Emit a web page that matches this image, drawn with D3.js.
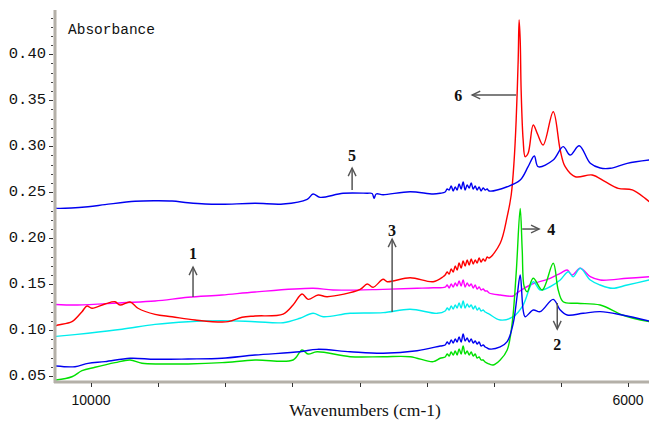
<!DOCTYPE html>
<html>
<head>
<meta charset="utf-8">
<script src="https://cdn.jsdelivr.net/npm/d3@7"></script>
<style>
  html, body { margin: 0; padding: 0; background: #ffffff; }
  svg { display: block; }
</style>
</head>
<body>
<svg id="chart" width="649" height="429"></svg>
<script>
// NIR absorbance spectra, [wavenumber (cm-1), absorbance]
const spectrum1 = [
  [10268,0.1278],[10100,0.1272],[9769,0.1297],[9523,0.1316],[9277,0.1356],[9024,0.1381],[8778,0.1414],
  [8346,0.1454],[8197,0.1436],[7824,0.1443],[7571,0.1454],[7451,0.1460],
  [7362,0.1468],[7347,0.1490],[7332,0.1457],[7317,0.1501],[7302,0.1468],[7287,0.1512],
  [7273,0.1479],[7258,0.1534],[7243,0.1479],[7228,0.1544],[7213,0.1468],[7198,0.1512],
  [7183,0.1479],[7168,0.1501],[7153,0.1457],[7138,0.1490],[7124,0.1446],[7109,0.1468],
  [7094,0.1436],[7079,0.1446],[7064,0.1425],[7049,0.1425],[7034,0.1403],
  [6952,0.1381],[6855,0.1370],[6825,0.1406],[6729,0.1490],[6580,0.1563],[6505,0.1617],[6453,0.1653],
  [6416,0.1599],[6356,0.1672],[6281,0.1580],[6207,0.1544],[6006,0.1563],[5842,0.1580]
];
const spectrum2 = [
  [10268,0.0609],[10119,0.0601],[10022,0.0638],[9896,0.0656],[9709,0.0693],[9523,0.0682],
  [9277,0.0685],[9024,0.0693],[8778,0.0728],[8443,0.0764],[8316,0.0790],[8070,0.0764],
  [7824,0.0747],[7571,0.0775],[7399,0.0826],
  [7362,0.0837],[7347,0.0870],[7332,0.0848],[7317,0.0892],[7302,0.0859],[7287,0.0903],
  [7273,0.0870],[7258,0.0924],[7243,0.0870],[7228,0.0957],[7213,0.0881],[7198,0.0913],
  [7183,0.0870],[7168,0.0903],[7153,0.0859],[7138,0.0881],[7124,0.0848],[7109,0.0870],
  [7094,0.0826],[7079,0.0837],[7064,0.0816],[7049,0.0805],[7034,0.0794],
  [6952,0.0816],[6900,0.0873],
  [6855,0.1073],[6825,0.1381],[6803,0.1599],[6781,0.1218],[6766,0.1145],[6706,0.1218],
  [6654,0.1200],[6557,0.1334],[6505,0.1218],[6453,0.1164],[6334,0.1182],[6207,0.1200],
  [6043,0.1164],[5842,0.1098]
];
const spectrum3 = [
  [10268,0.0930],[10022,0.0965],[9769,0.1008],[9523,0.1062],[9277,0.1091],[9024,0.1102],
  [8778,0.1091],[8569,0.1080],[8443,0.1128],[8346,0.1182],[8271,0.1145],[8070,0.1182],
  [7824,0.1189],[7623,0.1226],[7422,0.1182],
  [7362,0.1207],[7347,0.1240],[7332,0.1218],[7317,0.1262],[7302,0.1229],[7287,0.1272],
  [7273,0.1240],[7258,0.1294],[7243,0.1240],[7228,0.1316],[7213,0.1240],[7198,0.1283],
  [7183,0.1251],[7168,0.1272],[7153,0.1229],[7138,0.1262],[7124,0.1218],[7109,0.1240],
  [7094,0.1207],[7079,0.1218],[7064,0.1196],[7049,0.1185],[7034,0.1174],
  [6952,0.1109],[6855,0.1145],
  [6781,0.1272],[6706,0.1526],[6654,0.1436],[6580,0.1471],[6505,0.1544],[6445,0.1635],
  [6408,0.1580],[6356,0.1672],[6281,0.1544],[6207,0.1490],[6117,0.1454],[6006,0.1490],
  [5842,0.1544]
];
const spectrum4 = [
  [10268,0.0456],[10142,0.0492],[10067,0.0558],[9970,0.0595],[9821,0.0645],[9709,0.0674],
  [9620,0.0638],[9471,0.0631],[9277,0.0631],[9024,0.0645],[8778,0.0674],[8495,0.0674],
  [8428,0.0783],[8383,0.0739],[8316,0.0764],[8070,0.0710],[7824,0.0710],[7623,0.0710],
  [7451,0.0656],[7399,0.0693],
  [7362,0.0707],[7347,0.0739],[7332,0.0718],[7317,0.0761],[7302,0.0728],[7287,0.0772],
  [7273,0.0728],[7258,0.0794],[7243,0.0739],[7228,0.0826],[7213,0.0739],[7198,0.0772],
  [7183,0.0728],[7168,0.0761],[7153,0.0718],[7138,0.0739],[7124,0.0696],[7109,0.0707],
  [7094,0.0674],[7079,0.0674],[7064,0.0652],[7049,0.0641],[7034,0.0631],
  [7004,0.0620],[6952,0.0674],[6900,0.0783],[6863,0.1073],
  [6833,0.1617],[6803,0.2322],[6788,0.1871],[6773,0.1471],[6751,0.1417],[6706,0.1563],
  [6639,0.1436],[6557,0.1726],[6520,0.1436],[6483,0.1308],[6378,0.1291],[6207,0.1272],
  [6043,0.1164],[5842,0.1091]
];
const spectrum5 = [
  [10268,0.2328],[10246,0.2324],[10022,0.2342],[9896,0.2364],[9672,0.2401],[9523,0.2407],
  [9396,0.2404],[9277,0.2385],[9150,0.2371],[9024,0.2368],[8778,0.2379],[8569,0.2371],
  [8390,0.2422],[8346,0.2480],[8294,0.2444],[8122,0.2488],[7943,0.2488],[7906,0.2486],
  [7891,0.2433],[7876,0.2480],[7824,0.2472],[7623,0.2505],[7451,0.2480],[7399,0.2488],
  [7362,0.2502],[7347,0.2534],[7332,0.2524],[7317,0.2567],[7302,0.2513],[7287,0.2556],
  [7273,0.2524],[7258,0.2589],[7243,0.2534],[7228,0.2611],[7213,0.2524],[7198,0.2578],
  [7183,0.2545],[7168,0.2600],[7153,0.2534],[7138,0.2567],[7124,0.2524],[7109,0.2556],
  [7094,0.2513],[7079,0.2545],[7064,0.2524],[7049,0.2534],[7034,0.2513],
  [6900,0.2559],[6803,0.2632],
  [6744,0.2777],[6698,0.2893],[6669,0.2777],[6557,0.2850],[6483,0.2995],[6431,0.2904],
  [6363,0.3005],[6281,0.2814],[6207,0.2763],[6132,0.2760],[6006,0.2814],[5842,0.2850]
];
const spectrum6 = [
  [10268,0.1044],[10246,0.1055],[10142,0.1091],[10067,0.1200],[10030,0.1262],[9993,0.1237],
  [9896,0.1283],[9821,0.1308],[9784,0.1272],[9709,0.1305],[9650,0.1237],[9523,0.1171],
  [9396,0.1145],[9225,0.1109],[8979,0.1091],[8875,0.1139],[8778,0.1153],[8569,0.1174],
  [8495,0.1272],[8428,0.1392],[8383,0.1334],[8308,0.1381],[8241,0.1363],[7995,0.1443],
  [7943,0.1501],[7899,0.1465],[7824,0.1552],[7794,0.1526],[7623,0.1569],[7451,0.1526],
  [7377,0.1580],
  [7362,0.1599],[7347,0.1631],[7332,0.1610],[7317,0.1664],[7302,0.1631],[7287,0.1697],
  [7273,0.1653],[7258,0.1729],[7243,0.1675],[7228,0.1751],[7213,0.1697],[7198,0.1762],
  [7183,0.1708],[7168,0.1773],[7153,0.1718],[7138,0.1762],[7124,0.1729],[7109,0.1784],
  [7094,0.1740],[7079,0.1773],[7064,0.1751],[7049,0.1795],[7034,0.1784],
  [6952,0.1944],[6900,0.2233],[6870,0.2469],[6848,0.2850],[6833,0.3285],[6818,0.3938],
  [6811,0.4373],[6803,0.4155],[6796,0.3611],[6781,0.3067],[6766,0.2886],[6744,0.2923],
  [6706,0.3231],[6676,0.3140],[6632,0.3013],[6557,0.3375],[6505,0.2959],[6468,0.2777],
  [6393,0.2668],[6267,0.2687],[6170,0.2614],[6073,0.2542],[5968,0.2524],[5872,0.2433],
  [5842,0.2396]
];

const seriesList = [
  { name: "1", color: "#ff00ff", values: spectrum1 },
  { name: "3", color: "#00eded", values: spectrum3 },
  { name: "4", color: "#00e000", values: spectrum4 },
  { name: "2", color: "#0000f0", values: spectrum2 },
  { name: "6", color: "#ff0000", values: spectrum6 },
  { name: "5", color: "#0000f0", values: spectrum5 }
];

const yTickValues = [0.05, 0.10, 0.15, 0.20, 0.25, 0.30, 0.35, 0.40];
const yMinorTicks = d3.range(5, 45).map(d => d / 100);
const xTickValues = [10000, 9500, 9000, 8500, 8000, 7500, 7000, 6500, 6000];
const xTickLabels = { 10000: "10000", 6000: "6000" };

// Peak labels: text, label position, arrow tail, arrow head (data units)
const peakLabels = [
  { text: "1", at: [9240, 0.1838], from: [9240, 0.1359], to: [9240, 0.1686] },
  { text: "2", at: [6527, 0.0848], from: [6527, 0.1294], to: [6527, 0.1011] },
  { text: "3", at: [7757, 0.2088], from: [7757, 0.1196], to: [7757, 0.1990] },
  { text: "4", at: [6572, 0.2099], from: [6788, 0.2099], to: [6662, 0.2099] },
  { text: "5", at: [8055, 0.2904], from: [8055, 0.2524], to: [8055, 0.2763] },
  { text: "6", at: [7265, 0.3557], from: [6833, 0.3557], to: [7161, 0.3557] }
];

const svg = d3.select("#chart");
const plot = { left: 55, right: 649, top: 10, bottom: 382 };

const x = d3.scaleLinear().domain([10000, 6000]).range([91, 628]);
const y = d3.scaleLinear().domain([0.05, 0.40]).range([376, 54.3]);

svg.append("defs").append("clipPath").attr("id", "plotClip")
  .append("rect")
  .attr("x", plot.left + 1).attr("y", plot.top)
  .attr("width", plot.right - plot.left).attr("height", plot.bottom - plot.top);

// Spectra
const line = d3.line().x(d => x(d[0])).y(d => y(d[1])).curve(d3.curveCatmullRom.alpha(0.5));
svg.append("g").attr("clip-path", "url(#plotClip)")
  .selectAll("path").data(seriesList).join("path")
  .attr("d", d => line(d.values))
  .attr("fill", "none")
  .attr("stroke", d => d.color)
  .attr("stroke-width", 1.4)
  .attr("stroke-linejoin", "round");

// Y axis
const yAxisG = svg.append("g");
yAxisG.append("line")
  .attr("x1", plot.left).attr("x2", plot.left)
  .attr("y1", plot.top).attr("y2", plot.bottom + 1)
  .attr("stroke", "#b4b0a8").attr("stroke-width", 3);
yAxisG.selectAll("line.minor").data(yMinorTicks).join("line")
  .attr("class", "minor")
  .attr("x1", plot.left - 4).attr("x2", plot.left - 2)
  .attr("y1", d => Math.round(y(d)) + 0.5).attr("y2", d => Math.round(y(d)) + 0.5)
  .attr("stroke", "#444").attr("stroke-width", 1);
yAxisG.selectAll("line.major").data(yTickValues).join("line")
  .attr("class", "major")
  .attr("x1", plot.left - 6).attr("x2", plot.left - 2)
  .attr("y1", d => Math.round(y(d)) + 0.5).attr("y2", d => Math.round(y(d)) + 0.5)
  .attr("stroke", "#333").attr("stroke-width", 1);
yAxisG.selectAll("text").data(yTickValues).join("text")
  .attr("x", 46).attr("y", d => y(d))
  .attr("text-anchor", "end").attr("dominant-baseline", "central")
  .attr("font-family", "'Liberation Mono', 'DejaVu Sans Mono', monospace")
  .attr("font-size", 15.5).attr("fill", "#111")
  .text(d => d3.format(".2f")(d));

// X axis
const xAxisG = svg.append("g");
xAxisG.append("line")
  .attr("x1", plot.left - 1).attr("x2", plot.right)
  .attr("y1", plot.bottom).attr("y2", plot.bottom)
  .attr("stroke", "#b4b0a8").attr("stroke-width", 3);
xAxisG.selectAll("line.tick").data(xTickValues).join("line")
  .attr("class", "tick")
  .attr("x1", d => Math.round(x(d)) + 0.5).attr("x2", d => Math.round(x(d)) + 0.5)
  .attr("y1", plot.bottom + 1).attr("y2", plot.bottom + 5)
  .attr("stroke", "#333").attr("stroke-width", 1);
xAxisG.selectAll("text").data(xTickValues.filter(d => xTickLabels[d])).join("text")
  .attr("x", d => x(d)).attr("y", 405)
  .attr("text-anchor", "middle")
  .attr("font-family", "'Liberation Sans', Arial, sans-serif")
  .attr("font-size", 14).attr("fill", "#111")
  .text(d => xTickLabels[d]);

svg.append("text")
  .attr("x", 365).attr("y", 416)
  .attr("text-anchor", "middle")
  .attr("font-family", "'Liberation Serif', 'Times New Roman', serif")
  .attr("font-size", 17.5).attr("fill", "#111")
  .text("Wavenumbers (cm-1)");

svg.append("text")
  .attr("x", 68).attr("y", 30)
  .attr("dominant-baseline", "central")
  .attr("font-family", "'Liberation Mono', 'DejaVu Sans Mono', monospace")
  .attr("font-size", 14.5).attr("fill", "#111")
  .text("Absorbance");

// Peak labels with arrows
const annot = svg.append("g");
peakLabels.forEach(p => {
  const x1 = x(p.from[0]), y1 = y(p.from[1]);
  const x2 = x(p.to[0]), y2 = y(p.to[1]);
  const ang = Math.atan2(y2 - y1, x2 - x1);
  const len = 9, spread = 0.45;
  annot.append("line")
    .attr("x1", x1).attr("y1", y1).attr("x2", x2).attr("y2", y2)
    .attr("stroke", "#555").attr("stroke-width", 1.5);
  annot.append("path")
    .attr("d", d3.line()([
      [x2 - len * Math.cos(ang - spread), y2 - len * Math.sin(ang - spread)],
      [x2, y2],
      [x2 - len * Math.cos(ang + spread), y2 - len * Math.sin(ang + spread)]
    ]))
    .attr("fill", "none").attr("stroke", "#555").attr("stroke-width", 1.4);
  annot.append("text")
    .attr("x", x(p.at[0])).attr("y", y(p.at[1]))
    .attr("text-anchor", "middle").attr("dominant-baseline", "central")
    .attr("font-family", "'Liberation Serif', 'Times New Roman', serif")
    .attr("font-weight", "bold").attr("font-size", 16).attr("fill", "#111")
    .text(p.text);
});
</script>
</body>
</html>
